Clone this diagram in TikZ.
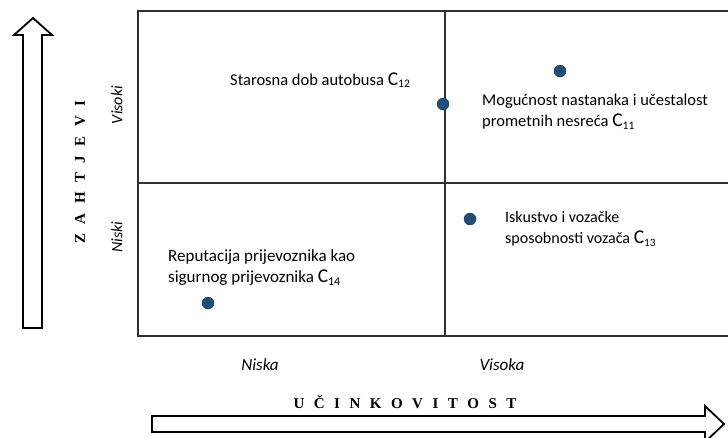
\documentclass[tikz,border=0pt]{standalone}
\usepackage{fontspec}
\setmainfont{Carlito}
\newfontfamily\serifb{Liberation Serif}
\definecolor{dotblue}{HTML}{1F4E79}
\definecolor{gridgray}{HTML}{303030}
\newcommand{\bigC}[1]{{\fontsize{19.5}{20}\selectfont C}\textsubscript{#1}}
\begin{document}
\begin{tikzpicture}[x=1pt,y=-1pt,
  boxline/.style={draw=gridgray,line width=1.8pt},
  midline/.style={draw=gridgray,line width=1.5pt},
  blockarrow/.style={draw=black,line width=1.8pt,fill=white,line join=miter},
  dot/.style={circle,fill=dotblue,draw=dotblue!70!black,line width=0.4pt,inner sep=0pt,minimum size=12pt},
  lbl/.style={align=left,anchor=west,inner sep=0pt,font=\fontsize{16.5}{21}\selectfont},
  ax/.style={font=\fontsize{17}{20}\selectfont\itshape,inner sep=0pt},
  vax/.style={font=\fontsize{16}{18}\selectfont\itshape,inner sep=0pt,rotate=90},
  title/.style={font=\serifb\bfseries\fontsize{15}{18}\selectfont,inner sep=0pt}]
\useasboundingbox (0,0) rectangle (728,437);
% grid
\draw[boxline] (728,11) -- (138,11) -- (138,336) -- (728,336);
\draw[midline] (445,11) -- (445,336);
\draw[midline] (138,183) -- (728,183);
% arrows
\draw[blockarrow] (23,328) -- (23,35) -- (14,35) -- (33,18) -- (52,35) -- (42,35) -- (42,328) -- cycle;
\draw[blockarrow] (152,416) -- (705,416) -- (705,406) -- (724,424) -- (705,442) -- (705,432) -- (152,432) -- cycle;
% axis labels
\node[title,rotate=90] (zah) at (80,172) {{\spaceskip=9.5pt Z A H T J E V I}};
\node[title] (uc) at (405,402) {{\spaceskip=9.5pt U Č I N K O V I T O S T}};
\node[vax] (vis) at (117,105) {Visoki};
\node[vax] (nis) at (117,237) {Niski};
\node[ax] (niska) at (260,365) {Niska};
\node[ax] (visoka) at (502,365) {Visoka};
% points
\node[dot] (d11) at (560,71) {};
\node[dot] (d12) at (443,104) {};
\node[dot] (d13) at (470,219) {};
\node[dot] (d14) at (208,303) {};
% labels
\node[lbl] (t12) at (230,80) {Starosna dob autobusa \bigC{12}};
\node[lbl] (t11) at (482,112) {Mogućnost nastanaka i učestalost\\prometnih nesreća \bigC{11}};
\node[lbl,font=\fontsize{16}{21}\selectfont] (t13) at (505,229) {Iskustvo i vozačke\\sposobnosti vozača \bigC{13}};
\node[lbl,font=\fontsize{17}{21}\selectfont] (t14) at (168,268) {Reputacija prijevoznika kao\\sigurnog prijevoznika \bigC{14}};
\end{tikzpicture}
\end{document}
